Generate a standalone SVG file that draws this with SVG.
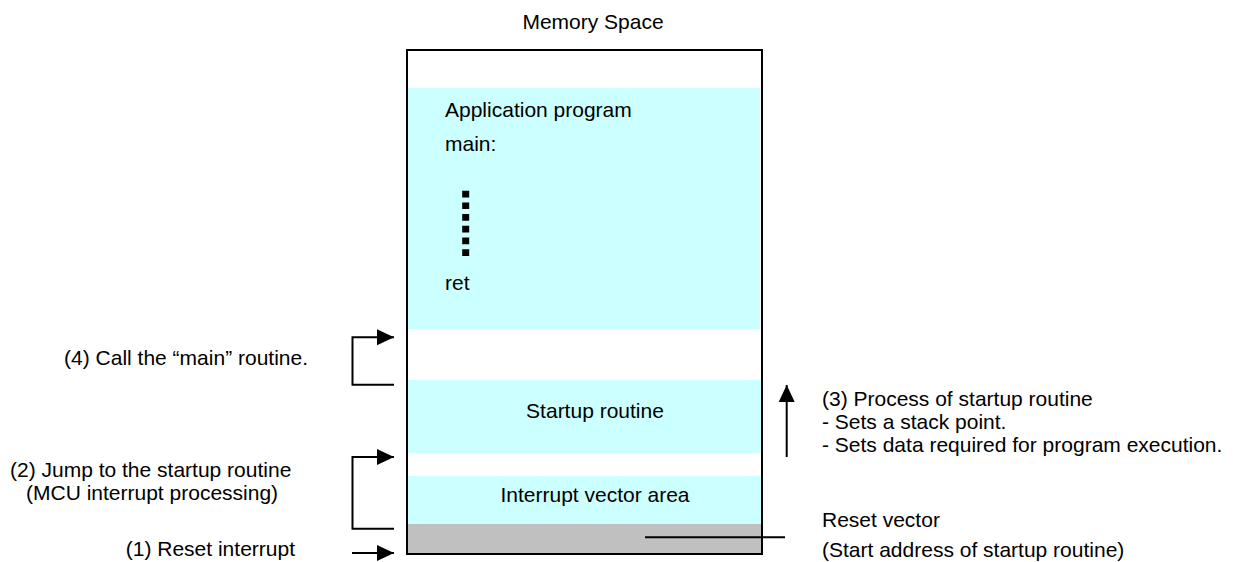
<svg xmlns="http://www.w3.org/2000/svg" width="1240" height="562" viewBox="0 0 1240 562">
<defs>
<marker id="ah" markerUnits="userSpaceOnUse" viewBox="0 0 17 16" markerWidth="17" markerHeight="16" refX="17" refY="8" orient="auto" overflow="visible">
<path d="M0,0 L17,8 L0,16 Z" fill="#000"/>
</marker>
<style>
text{font-family:"Liberation Sans",Arial,sans-serif;font-size:21px;fill:#000}
.cy{fill:#CCFFFF}
.gr{fill:#C0C0C0}
.ln{fill:none;stroke:#000;stroke-width:2}
.ar{fill:none;stroke:#000;stroke-width:2;marker-end:url(#ah)}
.mid{text-anchor:middle}
.end{text-anchor:end}
</style>
</defs>
<rect width="1240" height="562" fill="#fff"/>
<text class="mid" x="593" y="29">Memory Space</text>
<g id="memory">
<rect x="407" y="50" width="355" height="504" fill="#fff"/>
<g id="application">
<rect class="cy" x="407" y="88" width="353" height="241"/>
<text x="445" y="117">Application program</text>
<text x="445" y="151">main:</text>
<line x1="465.7" y1="190.7" x2="465.7" y2="256" stroke="#000" stroke-width="7" stroke-dasharray="6.7 5"/>
<text x="445" y="290">ret</text>
</g>
<g id="startup">
<rect class="cy" x="407" y="380" width="355" height="73"/>
<text class="mid" x="595" y="418">Startup routine</text>
</g>
<g id="ivarea">
<rect class="cy" x="407" y="476" width="355" height="48"/>
<text class="mid" x="595" y="502">Interrupt vector area</text>
</g>
<g id="resetvec">
<rect class="gr" x="407" y="524" width="355" height="30"/>
</g>
<rect x="407" y="50" width="355" height="504" fill="none" stroke="#000" stroke-width="2"/>
</g>
<g id="connectors">
<path class="ar" d="M394,384.7 H352.5 V337.3 H394"/>
<path class="ar" d="M394,528.7 H352.5 V457 H394"/>
<path class="ar" d="M352,553 H394"/>
<path class="ar" d="M786.7,457 V385" stroke-width="2.5"/>
<path class="ln" d="M645,537.3 H785"/>
</g>
<g id="labels">
<text class="end" x="308" y="365">(4) Call the “main” routine.</text>
<text x="10" y="477">(2) Jump to the startup routine</text>
<text x="26" y="500">(MCU interrupt processing)</text>
<text class="end" x="295" y="556">(1) Reset interrupt</text>
<text x="822" y="406">(3) Process of startup routine</text>
<text x="822" y="429">- Sets a stack point.</text>
<text x="822" y="452">- Sets data required for program execution.</text>
<text x="822" y="527">Reset vector</text>
<text x="822" y="557">(Start address of startup routine)</text>
</g>
</svg>
